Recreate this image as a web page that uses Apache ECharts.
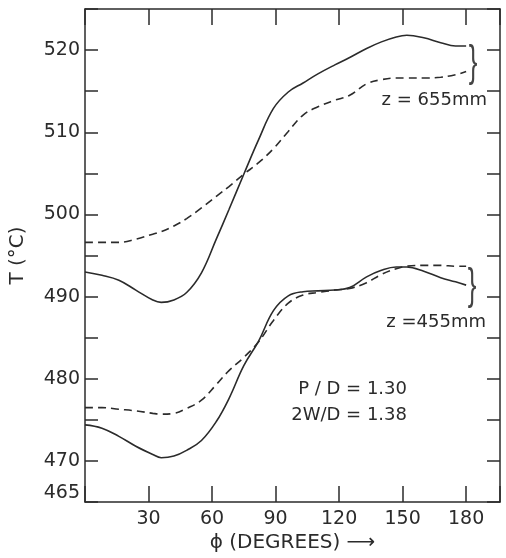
<!DOCTYPE html>
<html><head><meta charset="utf-8">
<script src="https://cdn.jsdelivr.net/npm/echarts@6/dist/echarts.min.js"></script>
<style>html,body{margin:0;padding:0;background:#fff}#c{width:506px;height:558px}</style>
</head><body><div id="c"></div>
<script>
// ---- data ----
const phi        = [0, 8, 16, 24, 32, 36, 42, 48, 55, 62, 68, 75, 82, 89, 96, 103, 110, 118, 125, 133, 140, 147, 152, 160, 168, 175, 180];
const t655Solid  = [493.0, 492.6, 492.0, 490.8, 489.6, 489.3, 489.6, 490.5, 492.9, 497.0, 500.6, 504.9, 509.1, 512.9, 514.9, 516.0, 517.1, 518.2, 519.1, 520.2, 521.0, 521.6, 521.8, 521.5, 520.9, 520.5, 520.5];
const t655Dashed = [496.6, 496.6, 496.6, 497.0, 497.6, 497.9, 498.6, 499.5, 500.8, 502.2, 503.4, 504.9, 506.3, 508.0, 510.1, 512.1, 513.1, 513.9, 514.5, 515.9, 516.4, 516.6, 516.6, 516.6, 516.7, 517.0, 517.4];
const t455Solid  = [474.4, 474.0, 473.0, 471.8, 470.8, 470.4, 470.6, 471.3, 472.5, 474.8, 477.6, 481.6, 484.6, 488.3, 490.1, 490.6, 490.7, 490.8, 491.1, 492.4, 493.2, 493.6, 493.6, 493.1, 492.3, 491.8, 491.4];
const t455Dashed = [476.5, 476.5, 476.3, 476.1, 475.8, 475.7, 475.8, 476.4, 477.4, 479.3, 481.0, 482.6, 484.5, 487.1, 489.2, 490.2, 490.5, 490.8, 491.0, 491.7, 492.7, 493.4, 493.7, 493.8, 493.8, 493.7, 493.7];
const xTickLabels = [30, 60, 90, 120, 150, 180];
const yTickLabels = [465, 470, 480, 490, 500, 510, 520];
const xAxisName = 'ϕ (DEGREES) ⟶';
const yAxisName = 'T (°C)';
const label655 = 'z = 655mm';
const label455 = 'z =455mm';
const noteLines = ['P / D = 1.30', '2W/D = 1.38'];

// ---- chart ----
const FONT = 'DejaVu Sans';
const INK = '#2b2b2b';
const chart = echarts.init(document.getElementById('c'), null, {renderer: 'canvas'});
const pair = ys => phi.map((p, i) => [p, ys[i]]);
function curve(name, ys, dashed) {
  return {
    name, type: 'line', data: pair(ys), smooth: 0.4, symbol: 'none', silent: true,
    lineStyle: {color: INK, width: 1.6, type: dashed ? [8, 5] : 'solid'}
  };
}
const ls = {color: INK, width: 1.5};
const xBase = () => ({type: 'value', min: 0, max: 196, interval: 30, splitLine: {show: false},
  axisLine: {onZero: false, lineStyle: ls}, axisTick: {inside: true, length: 16, lineStyle: ls}});
const yBase = () => ({type: 'value', min: 465, max: 525, interval: 5, splitLine: {show: false},
  axisLine: {onZero: false, lineStyle: ls}, axisTick: {inside: true, length: 13, lineStyle: ls}});

const textEl = (text, x, y, size, align) => ({
  type: 'text', x, y, silent: true,
  style: {text, fontFamily: FONT, fontSize: size, fill: INK, align: align || 'right', verticalAlign: 'middle'}
});
const brace = (x, y) => ({
  type: 'text', x, y, scaleY: 1.7, silent: true,
  style: {text: '}', fontFamily: 'Liberation Sans', fontSize: 26, fill: '#444', align: 'center', verticalAlign: 'middle'}
});

chart.setOption({
  animation: false,
  grid: {left: 85, right: 6, top: 9, bottom: 53},
  xAxis: [
    Object.assign(xBase(), {position: 'bottom',
      axisLabel: {margin: 7, fontFamily: FONT, fontSize: 19, color: INK,
        formatter: v => xTickLabels.includes(Math.round(v)) && Math.abs(v - Math.round(v)) < 1e-6 ? String(Math.round(v)) : ''},
      name: xAxisName, nameLocation: 'middle', nameGap: 28,
      nameTextStyle: {fontFamily: FONT, fontSize: 20, color: INK}}),
    Object.assign(xBase(), {position: 'top', axisLabel: {show: false}})
  ],
  yAxis: [
    Object.assign(yBase(), {position: 'left',
      axisLabel: {margin: 5, fontFamily: FONT, fontSize: 19, color: INK, verticalAlignMinLabel: 'bottom',
        formatter: v => yTickLabels.includes(Math.round(v)) && Math.abs(v - Math.round(v)) < 1e-6 ? String(Math.round(v)) : ''},
      name: yAxisName, nameLocation: 'middle', nameGap: 57, nameRotate: 90,
      nameTextStyle: {fontFamily: FONT, fontSize: 20, color: INK}}),
    Object.assign(yBase(), {position: 'right', axisLabel: {show: false}})
  ],
  series: [
    curve('655 solid', t655Solid, false),
    curve('655 dashed', t655Dashed, true),
    curve('455 solid', t455Solid, false),
    curve('455 dashed', t455Dashed, true)
  ],
  graphic: [
    textEl(label655, 487, 100, 18),
    textEl(label455, 486, 322, 18),
    textEl(noteLines[0], 407, 389, 18),
    textEl(noteLines[1], 407, 415, 18),
    brace(473, 64),
    brace(472, 287)
  ]
});
</script></body></html>
